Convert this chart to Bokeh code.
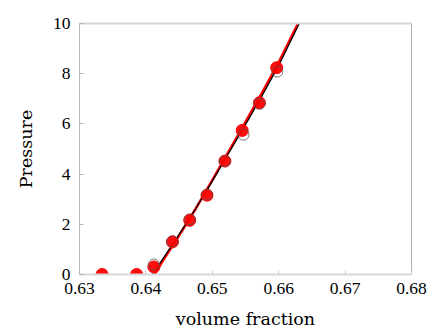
from bokeh.plotting import figure
from bokeh.models import LinearAxis, FixedTicker, Range1d
from bokeh.embed import file_html
from bokeh.resources import INLINE

# filled red data points
red_phi = [0.6334, 0.6386, 0.6412, 0.6440, 0.6466, 0.6492, 0.6519, 0.6545, 0.6571, 0.6597]
red_p = [0.0, 0.0, 0.30, 1.30, 2.16, 3.16, 4.52, 5.74, 6.84, 8.24]

# open black circles
open_phi = [0.6412, 0.6440, 0.6466, 0.6492, 0.6519, 0.6547, 0.6571, 0.6598]
open_p = [0.40, 1.32, 2.20, 3.18, 4.52, 5.57, 6.80, 8.09]

# fitted curves
black_phi = [0.6410, 0.6425, 0.6450, 0.6475, 0.6500, 0.6525, 0.6550, 0.6575, 0.6600, 0.6631]
black_p = [0.0, 0.60, 1.60, 2.62, 3.72, 4.85, 5.97, 7.12, 8.33, 10.0]
red_line_phi = [0.6413, 0.6425, 0.6450, 0.6475, 0.6500, 0.6525, 0.6550, 0.6575, 0.6600, 0.6629]
red_line_p = [0.0, 0.52, 1.55, 2.62, 3.76, 4.92, 6.08, 7.25, 8.45, 10.0]

x_ticks = [0.63, 0.64, 0.65, 0.66, 0.67, 0.68]
y_ticks = [0, 2, 4, 6, 8, 10]

TICK_FONT = "Liberation Serif"
LABEL_FONT = "DejaVu Serif"

p = figure(width=428, height=332, output_backend="svg", toolbar_location=None,
           x_range=Range1d(0.63, 0.68), y_range=Range1d(0, 10),
           min_border_left=79, min_border_right=17, min_border_top=23, min_border_bottom=58,
           x_axis_label="volume fraction", y_axis_label="Pressure")
p.grid.visible = False
p.outline_line_color = "#b0b0b0"
p.outline_line_width = 1

p.xaxis.ticker = FixedTicker(ticks=x_ticks)
p.yaxis.ticker = FixedTicker(ticks=y_ticks)
for ax in (p.xaxis[0], p.yaxis[0]):
    ax.major_label_text_font = TICK_FONT
    ax.major_label_text_font_size = "17.5px"
    ax.major_label_text_color = "black"
    ax.axis_label_text_font = LABEL_FONT
    ax.axis_label_text_font_size = "17.5px"
    ax.axis_label_text_font_style = "normal"
    ax.axis_label_text_color = "black"
    ax.minor_tick_line_color = None
    ax.major_tick_in = 4
    ax.major_tick_out = 0
p.xaxis.axis_line_color = "#d8d8d8"
p.xaxis.axis_line_width = 2
p.xaxis.major_tick_line_color = "#c8c8c8"
p.yaxis.axis_line_color = "#b8b8b8"
p.yaxis.major_tick_line_color = "#b8b8b8"
p.xaxis.major_label_standoff = 8
p.xaxis.axis_label_standoff = 12
p.yaxis.major_label_standoff = 9
p.yaxis.axis_label_standoff = 14

top = LinearAxis(ticker=FixedTicker(ticks=[]), major_label_text_font_size="0px",
                 axis_line_color="#d8d8d8", axis_line_width=2,
                 major_tick_line_color=None, minor_tick_line_color=None)
p.add_layout(top, "above")

p.line(red_line_phi, red_line_p, line_color="red", line_width=2.5)
p.line(black_phi, black_p, line_color="black", line_width=1.3)
p.scatter(red_phi, red_p, size=12, fill_color="red", line_color="red", fill_alpha=0.95)
p.scatter(open_phi, open_p, size=11, fill_color=None, line_color="#555555", line_width=1, line_alpha=0.8)

open("out.html", "w").write(file_html(p, INLINE))
